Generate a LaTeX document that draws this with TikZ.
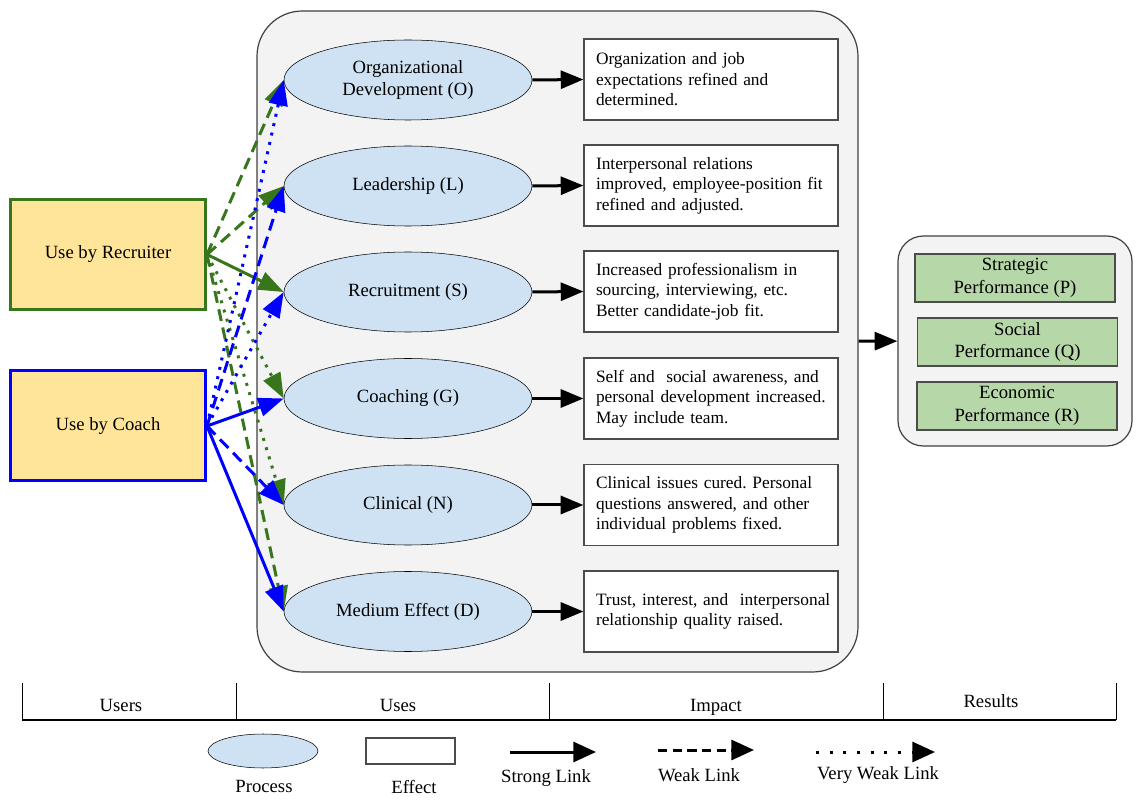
\documentclass[tikz,border=0pt]{standalone}
\usepackage{fontspec}
\setmainfont{Liberation Serif}
\usetikzlibrary{arrows.meta,shapes.geometric}
\definecolor{procfill}{HTML}{CFE2F3}
\definecolor{userfill}{HTML}{FFE599}
\definecolor{resfill}{HTML}{B6D7A8}
\definecolor{panelfill}{HTML}{F3F3F3}
\definecolor{recgreen}{HTML}{38761D}
\definecolor{coablue}{HTML}{0000FF}
\frenchspacing
\hyphenpenalty=10000
\tikzset{
  process/.style={ellipse, draw, fill=procfill, minimum width=186pt, minimum height=60pt, inner sep=0pt, align=center},
  effect/.style={draw=black!70, line width=0.9pt, fill=white, text width=172.5pt, inner xsep=9pt, minimum height=60.75pt, align=left, font=\fontsize{13}{15.4}\selectfont},
  user/.style={draw, line width=2.25pt, fill=userfill, minimum width=146.25pt, minimum height=82.5pt},
  result/.style={draw=black!70, line width=0.9pt, fill=resfill, minimum width=150pt, minimum height=36pt, inner sep=0pt, align=center},
  panel/.style={draw=black!75, line width=0.9pt, fill=panelfill, inner sep=0pt},
  link/.style={line width=2.25pt, -{Triangle[length=19pt,width=14pt]}},
  strong/.style={link},
  weak/.style={link, dash pattern=on 9pt off 5pt},
  vweak/.style={link, dash pattern=on 2.2pt off 5pt},
  flow/.style={line width=2.25pt, -{Triangle[length=17pt,width=13.5pt]}},
}
\begin{document}
\begin{tikzpicture}[x=0.75pt, y=-0.75pt, font=\fontsize{14}{17}\selectfont]
        \useasboundingbox (0,0) rectangle (1140,802);

        \node[panel, rounded corners=34pt, minimum width=450.75pt, minimum height=495.75pt] (uses) at (557.5,341.5) {};
        \node[panel, rounded corners=19pt, minimum width=175.5pt, minimum height=157.5pt] (res) at (1015,341) {};

        \node[user, draw=recgreen] (rec) at (108,254.5) {Use by Recruiter};
        \node[user, draw=coablue] (coa) at (108,426) {Use by Coach};

        \node[process] (o) at (408,80) {Organizational\\Development (O)};
        \node[process] (l) at (408,186) {Leadership (L)};
        \node[process] (s) at (408,292) {Recruitment (S)};
        \node[process] (g) at (408,398.5) {Coaching (G)};
        \node[process] (n) at (408,505) {Clinical (N)};
        \node[process] (d) at (408,611.5) {Medium Effect (D)};

        \node[effect] (eo) at (711,79.5) {Organization and job\\expectations refined and\\determined.};
        \node[effect] (el) at (711,185.5) {Interpersonal relations\\improved, employee-position fit\\refined and adjusted.};
        \node[effect] (es) at (711,291.5) {Increased professionalism in\\sourcing, interviewing, etc.\\Better candidate-job fit.};
        \node[effect] (eg) at (711,398.5) {Self~and~\ social~awareness,~and\\personal~development~increased.\\May include team.};
        \node[effect] (en) at (711,505) {Clinical issues cured. Personal\\questions answered, and other\\individual problems fixed.};
        \node[effect] (ed) at (711,611.5) {Trust,~interest,~and~\ interpersonal\\relationship quality raised.};

        \node[result] (p) at (1015,278) {Strategic\\Performance (P)};
        \node[result] (q) at (1017.5,342) {Social\\Performance (Q)};
        \node[result] (r) at (1017,406) {Economic\\Performance (R)};

        \draw[flow] (o.east) -- (eo.west);
        \draw[flow] (l.east) -- (el.west);
        \draw[flow] (s.east) -- (es.west);
        \draw[flow] (g.east) -- (eg.west);
        \draw[flow] (n.east) -- (en.west);
        \draw[flow] (d.east) -- (ed.west);
        \draw[flow] (uses) -- (res);

        \draw[weak, recgreen] (rec.east) -- (o.west);
        \draw[weak, recgreen] (rec.east) -- (l.west);
        \draw[strong, recgreen] (rec.east) -- (s.west);
        \draw[vweak, recgreen] (rec.east) -- (g.west);
        \draw[vweak, recgreen] (rec.east) -- (n.west);
        \draw[weak, recgreen] (rec.east) -- (d.west);
        \draw[vweak, coablue] (coa.east) -- (o.west);
        \draw[weak, coablue] (coa.east) -- (l.west);
        \draw[vweak, coablue] (coa.east) -- (s.west);
        \draw[strong, coablue] (coa.east) -- (g.west);
        \draw[weak, coablue] (coa.east) -- (n.west);
        \draw[strong, coablue] (coa.east) -- (d.west);

        \draw[line width=0.9pt] (22,720) -- (1116,720);
        \draw (22,683) -- (22,720);
        \draw (236,683) -- (236,720);
        \draw (549,683) -- (549,720);
        \draw (883,683) -- (883,720);
        \draw (1116,683) -- (1116,720);
        \node (tu) at (121,705) {Users};
        \node (ts) at (398,705) {Uses};
        \node (ti) at (716,707) {Impact};
        \node (tr) at (991,701) {Results};

        \node[process, minimum width=82.5pt, minimum height=25.5pt] (kp) at (263,751) {};
        \node (kpt) at (264,786) {Process};
        \node[draw=black!70, line width=0.9pt, fill=white, minimum width=66.75pt, minimum height=19.5pt] (ke) at (410.5,751) {};
        \node (ket) at (414,787) {Effect};
        \coordinate (ks1) at (510,752);
        \coordinate (ks2) at (596,752);
        \coordinate (kw1) at (658,750);
        \coordinate (kw2) at (754,750);
        \coordinate (kv1) at (816,752);
        \coordinate (kv2) at (935,752);
        \draw[strong, -{Triangle[length=17pt,width=15pt]}] (ks1) -- (ks2);
        \draw[weak, dash pattern=on 7pt off 4pt, -{Triangle[length=17pt,width=15pt]}] (kw1) -- (kw2);
        \draw[vweak, dash pattern=on 2.25pt off 8pt, -{Triangle[length=17pt,width=15pt]}] (kv1) -- (kv2);
        \node (kst) at (546,778) {Strong Link};
        \node (kwt) at (699,775) {Weak Link};
        \node (kvt) at (878,775) {Very Weak Link};
    \end{tikzpicture}
\end{document}
